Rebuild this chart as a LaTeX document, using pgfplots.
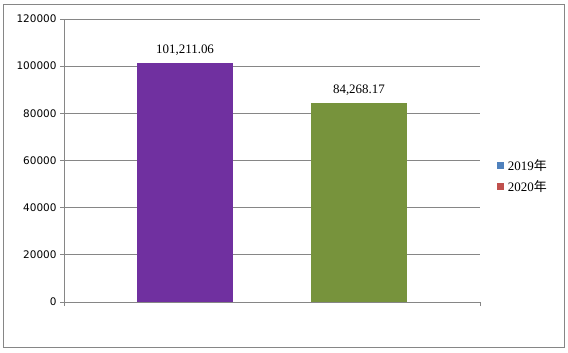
\documentclass[border=0pt]{standalone}
\usepackage{pgfplots}
\pgfplotsset{compat=1.18}
\usepackage{fontspec}
\setmainfont{Liberation Serif}
\newfontfamily\tickfont{DejaVu Sans}
\newfontfamily\cjk{Noto Sans CJK SC}
\definecolor{gridgray}{HTML}{868686}
\definecolor{barpurple}{HTML}{7030A0}
\definecolor{bargreen}{HTML}{77933C}
\definecolor{legblue}{HTML}{4F81BD}
\definecolor{legred}{HTML}{C0504D}
\newcommand{\labA}{101,211.06}
\newcommand{\labB}{84,268.17}
\begin{document}
\begin{tikzpicture}[x=1bp,y=1bp]
\useasboundingbox (0,0) rectangle (568,352);
\draw[gridgray, line width=1bp] (3.5,5) rectangle (564.5,347.5);
\begin{axis}[
  at={(64bp,50bp)}, anchor=south west,
  scale only axis, width=416bp, height=283bp,
  xmin=-1, xmax=1, ymin=0, ymax=120000,
  ytick={0,20000,40000,60000,80000,100000,120000},
  yticklabels={0,20000,40000,60000,80000,100000,120000},
  xtick={-1,1}, xticklabels={,},
  axis lines*=left,
  axis line style={gridgray, line width=0.8bp},
  tick style={gridgray, line width=0.8bp},
  major tick length=4bp,
  tick align=outside,
  ymajorgrids, grid style={gridgray, line width=0.8bp},
  yticklabel style={font=\tickfont\fontsize{10.5}{12}\selectfont, text=black},
  scaled y ticks=false,
  clip=false,
  legend style={draw=none, fill=none, at={(1.04,0.445)}, anchor=west,
    font=\fontsize{13}{15}\selectfont, row sep=5bp, inner sep=0pt,
    nodes={inner xsep=4bp}},
  legend cell align=left,
  legend image code/.code={\fill (0bp,-3.5bp) rectangle (7bp,3.5bp);},
]
\addlegendimage{fill=legblue, draw=none}
\addlegendentry{2019{\cjk 年}}
\addlegendimage{fill=legred, draw=none}
\addlegendentry{2020{\cjk 年}}
\addplot[ybar, bar width=96bp, fill=barpurple, draw=none, forget plot,
  nodes near coords={\labA}, nodes near coords style={font=\fontsize{13}{15}\selectfont, yshift=4bp}]
  coordinates {(-0.418,101211.06)};
\addplot[ybar, bar width=96bp, fill=bargreen, draw=none, forget plot,
  nodes near coords={\labB}, nodes near coords style={font=\fontsize{13}{15}\selectfont, yshift=4bp}]
  coordinates {(0.418,84268.17)};
\end{axis}
\end{tikzpicture}
\end{document}
